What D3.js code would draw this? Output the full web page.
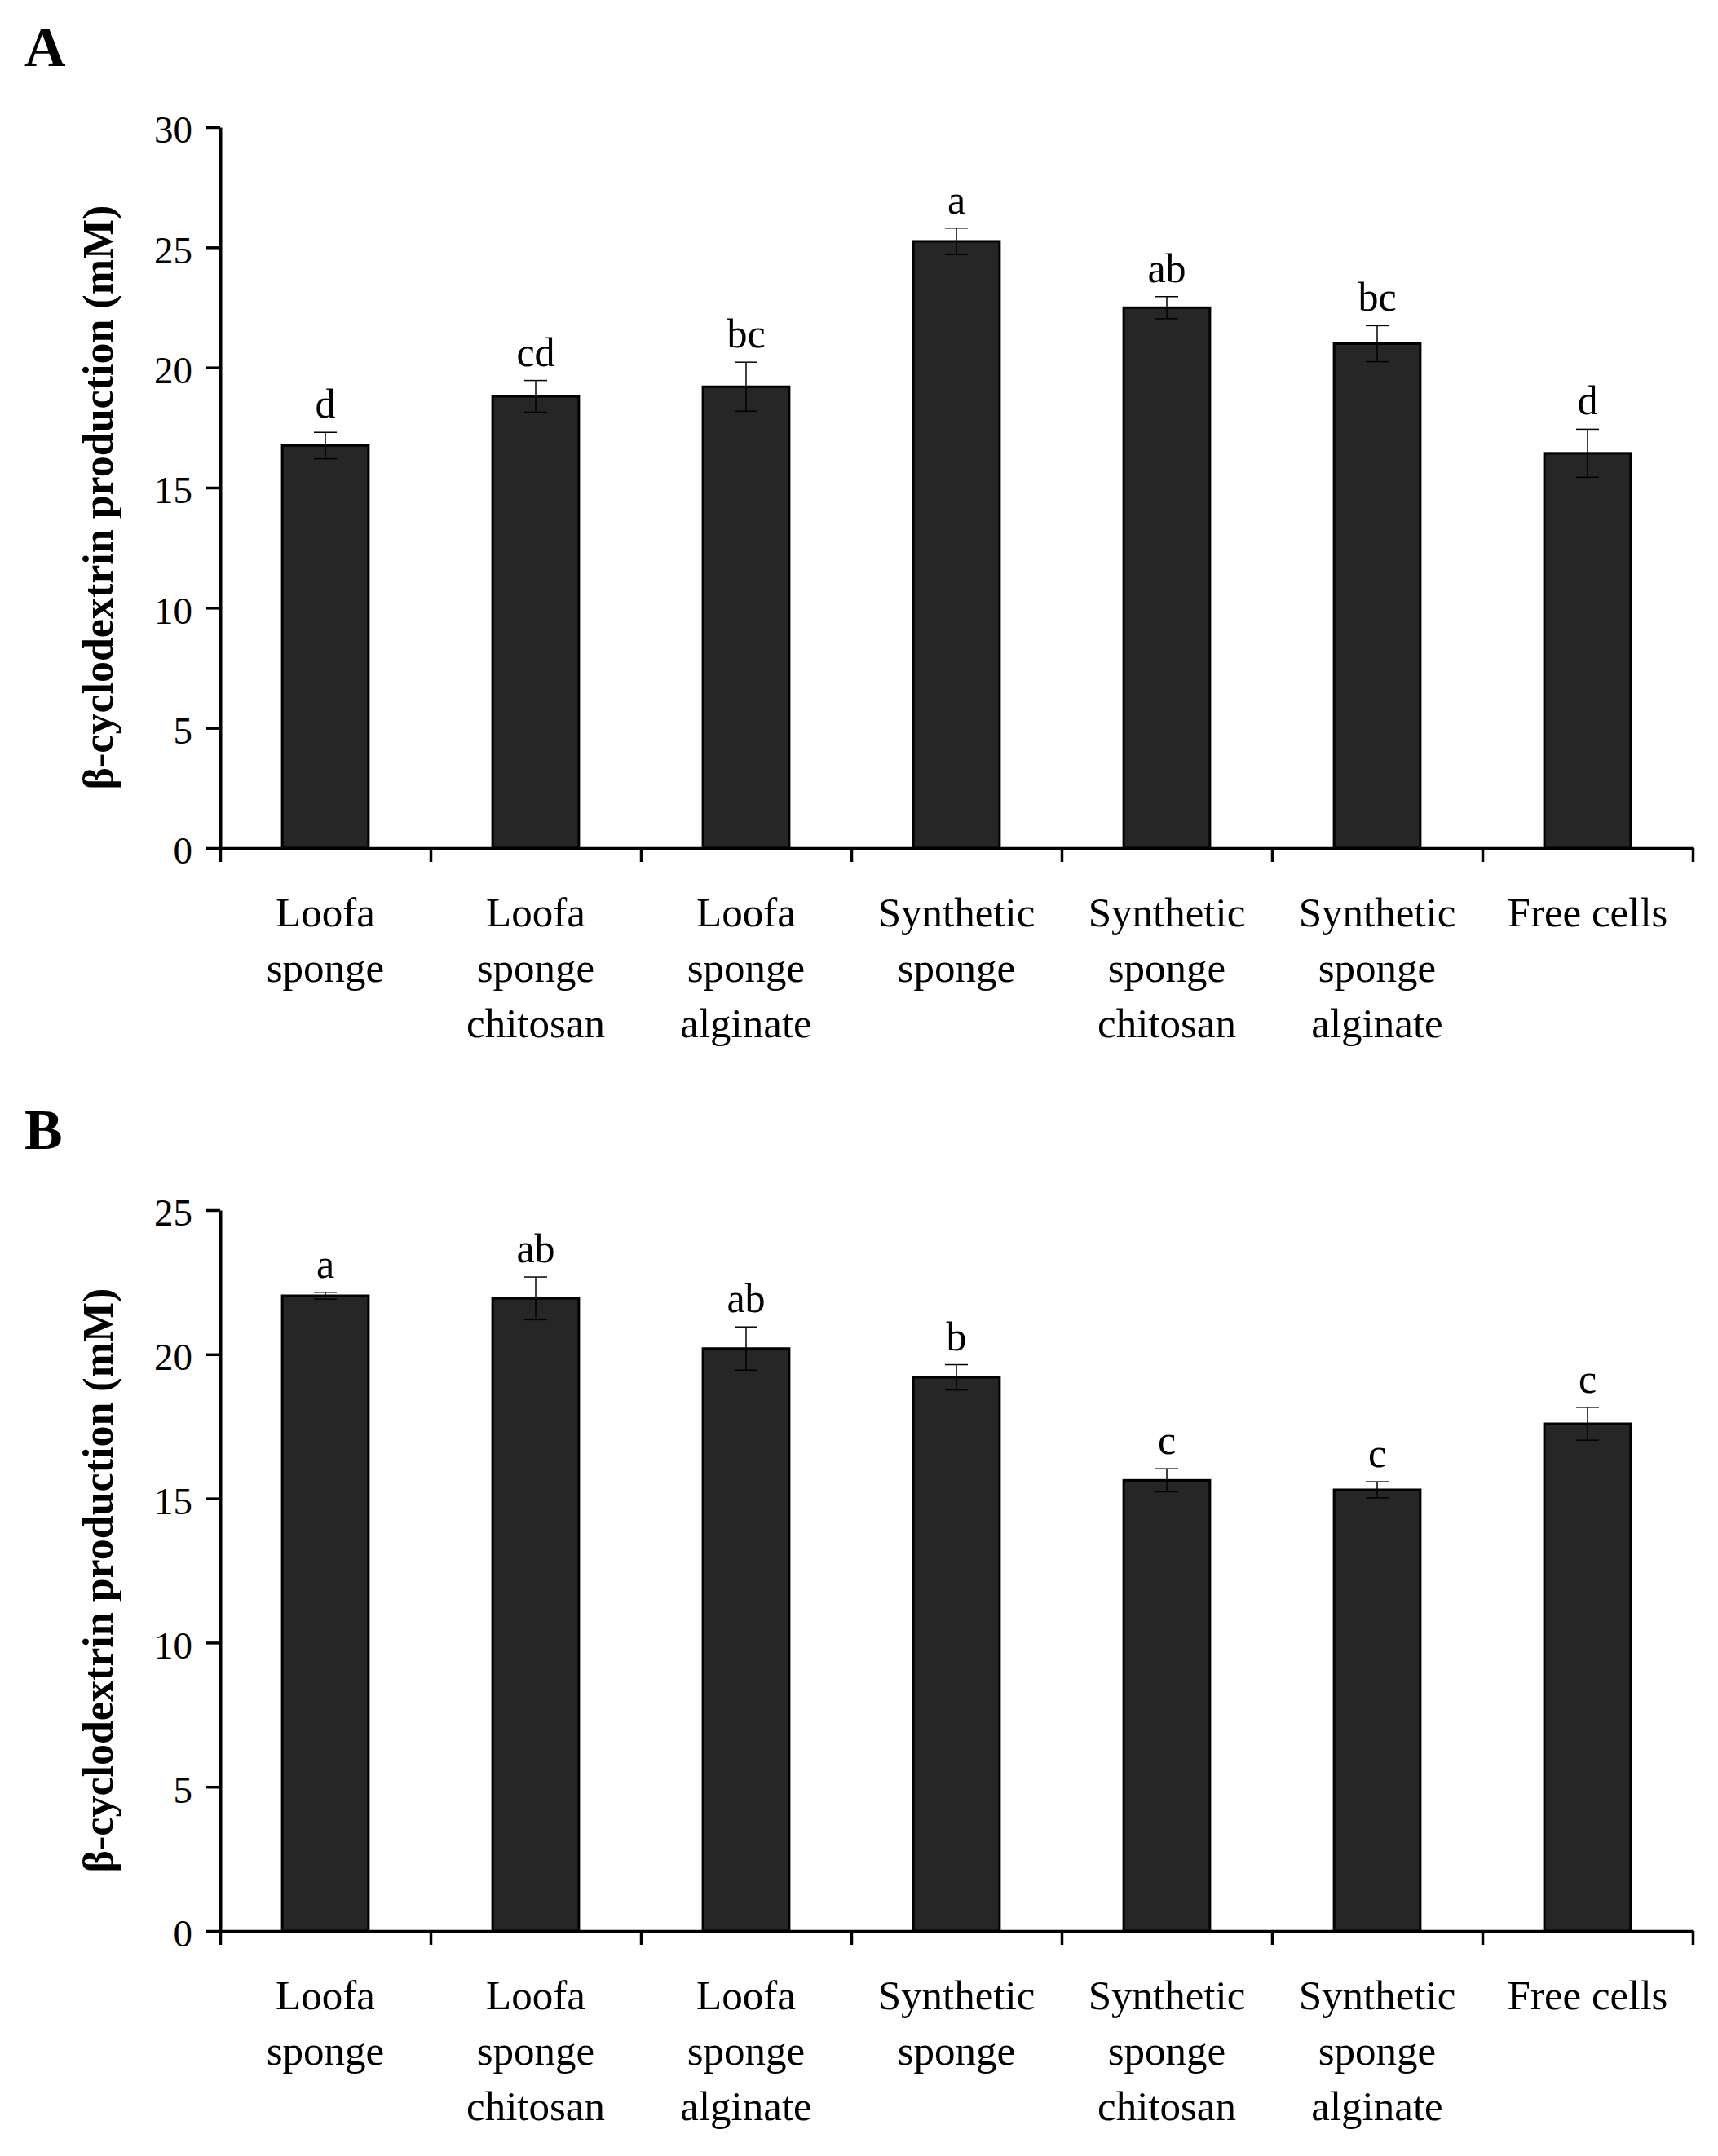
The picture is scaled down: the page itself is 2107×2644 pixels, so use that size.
<!DOCTYPE html>
<html>
<head>
<meta charset="utf-8">
<script src="https://cdn.jsdelivr.net/npm/d3@7"></script>
<style>
    body { margin: 0; background: #fff; }
    text { font-family: "Times New Roman", "Liberation Serif", serif; }
</style>
</head>
<body>
<div id="chart"></div>
<script>

// data
let categories = [
    ["Loofa", "sponge"],
    ["Loofa", "sponge", "chitosan"],
    ["Loofa", "sponge", "alginate"],
    ["Synthetic", "sponge"],
    ["Synthetic", "sponge", "chitosan"],
    ["Synthetic", "sponge", "alginate"],
    ["Free cells"]
];

let valuesA = [16.75, 18.80, 19.20, 25.25, 22.49, 20.99, 16.43];
let errorsA = [0.55, 0.66, 1.02, 0.55, 0.46, 0.75, 1.00];
let lettersA = ["d", "cd", "bc", "a", "ab", "bc", "d"];
let ticksA = [0, 5, 10, 15, 20, 25, 30];

let valuesB = [22.03, 21.94, 20.20, 19.20, 15.63, 15.30, 17.59];
let errorsB = [0.12, 0.74, 0.75, 0.44, 0.40, 0.28, 0.57];
let lettersB = ["a", "ab", "ab", "b", "c", "c", "c"];
let ticksB = [0, 5, 10, 15, 20, 25];

let yTitle = "β-cyclodextrin production (mM)";

let svg = d3.select("#chart").append("svg")
    .attr("width", 2107)
    .attr("height", 2644);

class BarVis {

    constructor(_svg, _panel, _values, _errors, _letters, _ticks, _top) {
        this.svg = _svg;
        this.panel = _panel;
        this.values = _values;
        this.errors = _errors;
        this.letters = _letters;
        this.ticks = _ticks;
        this.top = _top;

        this.initVis();
    }

    initVis() {
        let vis = this;

        vis.margin = { left: 270, top: vis.top };
        vis.width = 1806;
        vis.height = 884;

        vis.g = vis.svg.append("g")
            .attr("transform", "translate(" + vis.margin.left + "," + vis.margin.top + ")");

        vis.data = categories.map((c, i) => ({
            label: c,
            value: vis.values[i],
            err: vis.errors[i],
            letter: vis.letters[i]
        }));

        // scales
        vis.x = d3.scaleBand()
            .domain(d3.range(categories.length))
            .range([0, vis.width])
            .paddingInner(0.59)
            .paddingOuter(0.295);

        vis.y = d3.scaleLinear()
            .domain([0, d3.max(vis.ticks)])
            .range([vis.height, 0]);

        // panel letter
        vis.svg.append("text")
            .attr("x", 30)
            .attr("y", vis.top - 75)
            .style("font-size", "70px")
            .style("font-weight", "bold")
            .text(vis.panel);

        vis.updateVis();
    }

    updateVis() {
        let vis = this;

        // bars
        vis.g.selectAll(".bar")
            .data(vis.data)
            .enter().append("rect")
            .attr("class", "bar")
            .attr("x", (d, i) => vis.x(i))
            .attr("width", vis.x.bandwidth())
            .attr("y", d => vis.y(d.value))
            .attr("height", d => vis.height - vis.y(d.value))
            .attr("fill", "#262626")
            .attr("stroke", "#000")
            .attr("stroke-width", 3);

        // error bars
        let capW = 14;
        let err = vis.g.selectAll(".err")
            .data(vis.data)
            .enter().append("g")
            .attr("class", "err")
            .attr("stroke", "#000")
            .attr("stroke-width", 1.5);

        err.append("line")
            .attr("x1", (d, i) => vis.x(i) + vis.x.bandwidth() / 2)
            .attr("x2", (d, i) => vis.x(i) + vis.x.bandwidth() / 2)
            .attr("y1", d => vis.y(d.value - d.err))
            .attr("y2", d => vis.y(d.value + d.err));

        err.append("line")
            .attr("x1", (d, i) => vis.x(i) + vis.x.bandwidth() / 2 - capW)
            .attr("x2", (d, i) => vis.x(i) + vis.x.bandwidth() / 2 + capW)
            .attr("y1", d => vis.y(d.value + d.err))
            .attr("y2", d => vis.y(d.value + d.err));

        err.append("line")
            .attr("x1", (d, i) => vis.x(i) + vis.x.bandwidth() / 2 - capW)
            .attr("x2", (d, i) => vis.x(i) + vis.x.bandwidth() / 2 + capW)
            .attr("y1", d => vis.y(d.value - d.err))
            .attr("y2", d => vis.y(d.value - d.err));

        // significance letters
        vis.g.selectAll(".letter")
            .data(vis.data)
            .enter().append("text")
            .attr("class", "letter")
            .attr("x", (d, i) => vis.x(i) + vis.x.bandwidth() / 2)
            .attr("y", d => vis.y(d.value + d.err) - 18)
            .attr("text-anchor", "middle")
            .style("font-size", "50px")
            .text(d => d.letter);

        // y axis
        vis.yAxis = d3.axisLeft(vis.y)
            .tickValues(vis.ticks)
            .tickSize(17)
            .tickSizeOuter(0)
            .tickPadding(17);

        let ya = vis.g.append("g")
            .attr("class", "y-axis")
            .call(vis.yAxis);
        ya.select(".domain").attr("stroke-width", 4);
        ya.selectAll(".tick line").attr("stroke-width", 3.5);
        ya.selectAll(".tick text")
            .attr("dy", "0.4em")
            .style("font-family", "'Times New Roman', 'Liberation Serif', serif")
            .style("font-size", "47px");

        // x axis: line plus ticks between categories
        let xb = d3.scaleLinear().domain([0, categories.length]).range([0, vis.width]);
        vis.xAxis = d3.axisBottom(xb)
            .tickValues(d3.range(categories.length + 1))
            .tickSize(17)
            .tickSizeOuter(0)
            .tickFormat("");

        let xa = vis.g.append("g")
            .attr("class", "x-axis")
            .attr("transform", "translate(0," + vis.height + ")")
            .call(vis.xAxis);
        xa.select(".domain").attr("stroke-width", 3.5);
        xa.selectAll(".tick line").attr("stroke-width", 3.5);

        // category labels
        let labels = vis.g.selectAll(".cat")
            .data(vis.data)
            .enter().append("text")
            .attr("class", "cat")
            .attr("text-anchor", "middle")
            .attr("transform", (d, i) => "translate(" + (vis.x(i) + vis.x.bandwidth() / 2) + "," + (vis.height + 96) + ")")
            .style("font-size", "51px");

        labels.selectAll("tspan")
            .data(d => d.label)
            .enter().append("tspan")
            .attr("x", 0)
            .attr("y", (d, j) => j * 68)
            .text(d => d);

        // y title
        vis.svg.append("text")
            .attr("transform", "translate(138," + (vis.margin.top + vis.height / 2 + 12) + ") rotate(-90)")
            .attr("text-anchor", "middle")
            .style("font-size", "52px")
            .style("font-weight", "bold")
            .text(yTitle);
    }
}

let panelA = new BarVis(svg, "A", valuesA, errorsA, lettersA, ticksA, 156);
let panelB = new BarVis(svg, "B", valuesB, errorsB, lettersB, ticksB, 1484);

</script>
</body>
</html>
